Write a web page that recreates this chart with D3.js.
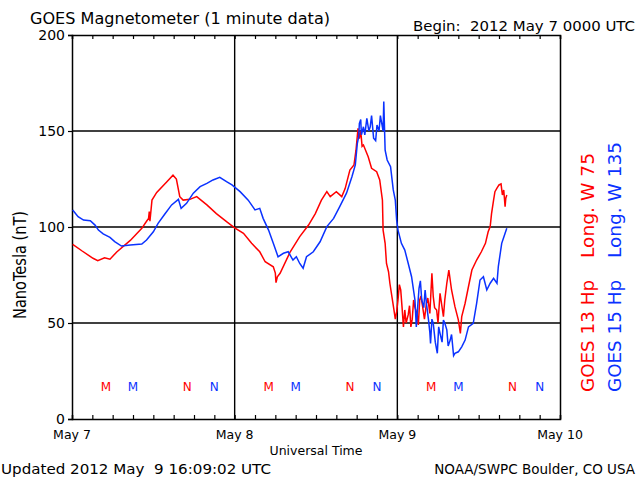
<!DOCTYPE html>
<html><head><meta charset="utf-8">
<script src="https://cdn.jsdelivr.net/npm/d3@7"></script>
<style>body{margin:0;background:#fff}svg{display:block}text{font-family:"DejaVu Sans",sans-serif}</style>
</head><body>
<script>
// Hours since 2012-05-07 00:00 UTC
const g13Hours = [0.1,1.5,3.1,3.8,4.8,5.6,6.6,8.6,10.3,11.0,11.3,11.4,11.5,11.8,12.5,14,14.9,15.4,15.9,16.4,17.4,18.4,19.9,21.3,22.8,24.0,25.3,26.5,27.7,28.5,29.7,30.0,30.1,30.3,30.7,32.2,33.6,34.9,35.9,36.8,37.6,38.1,39,39.8,40.3,41,41.6,41.9,42.2,42.4,42.6,42.8,43,43.7,44.2,44.95,45.4,45.8,45.9,46.2,46.4,46.7,46.9,47.2,47.5,47.7,47.9,48.1,48.3,48.5,48.7,48.9,49.1,49.3,49.6,49.8,50,50.2,50.4,50.6,50.9,51.1,51.3,51.5,51.8,52.0,52.3,52.5,52.8,53.1,53.3,53.5,53.8,54.0,54.3,54.8,55.0,55.3,55.6,56,56.5,57,57.3,57.5,58,58.5,59,59.7,60.4,61,61.4,61.7,61.9,62.2,62.4,62.7,63,63.3,63.5,63.7,63.9,64.0,64.15];
const g13Values = [91,87.5,83.7,82.5,84,83.2,87,93,99.3,103,104.5,108,103,114,118,123.6,127,125,115.8,114,114.4,115.8,111.5,107,102.8,99.6,96.7,91.5,87.1,81.9,79.3,76,71,74,75.9,87.1,95,101,107,114,118.4,115.8,118.4,115.8,120,129.7,132.3,140,151.4,146,150,142,142.7,136.6,130.6,128.8,124.5,114,98.4,91.5,81,76.7,70.7,63.7,56.8,52,55.9,62,70,67.2,58,48,56.8,50,54.2,59,48,52,62,58,55,49,62,64,56.8,52,60.3,63,55,75.9,63.7,58,56.8,50,65.5,53.3,62,70.7,77.6,67.2,58.5,51.6,44.6,53.3,60.3,69,77.6,82.8,87.1,91.5,97.5,100.2,107,114,118.4,120.2,121.9,122.4,116.7,119.3,110.6,114.9,116.7];
const g15Hours = [0.1,0.9,1.7,2.7,3.4,3.9,4.6,5.6,6.3,7.3,8.6,10.3,11,12,12.7,13.7,14.7,15.7,16.1,16.9,17.9,18.9,19.9,20.8,21.8,22.8,23.6,24.8,26,27,27.7,28.2,29,29.7,30.4,31.2,31.9,32.6,33.1,33.6,34.1,34.6,35.6,36.6,37.6,38.6,39.5,40.5,41.3,41.8,42.1,42.3,42.4,42.6,42.7,43,43.2,43.5,43.8,44,44.2,44.5,44.8,45,45.3,45.5,45.7,45.9,46.0,46.2,46.5,47,47.4,47.7,47.9,48.1,48.6,49.1,49.6,50.1,50.6,50.8,50.9,51.2,51.4,51.6,51.9,52.1,52.3,52.6,52.8,52.9,53.1,53.3,53.6,53.9,54.1,54.3,54.6,54.8,55.0,55.3,55.5,55.8,56.0,56.3,56.5,57,57.5,58,58.5,59.2,59.7,60.2,60.7,61.2,61.7,62.2,62.7,62.9,63.4,63.9,64.15];
const g15Values = [108.9,105.4,103.6,103.3,101,98.4,96.4,94.6,92.4,90.1,90.6,91.1,93.2,97.5,101.9,106.8,111.5,114.4,109.7,112.3,117.6,121,122.7,124.5,125.9,123.6,121.9,118.4,114,108.9,109.7,104.5,98.4,91.5,84.5,86.3,87.1,82.8,84.5,81,78.5,84.5,87.1,92.3,100.2,104.5,110.6,117.6,126.2,132.3,143.6,147,154,156,148,152.2,148,156.6,150,152.2,158,146.2,145,153.1,150,158,154,150,165.3,140,134.9,131.4,119.3,114,103.6,98.4,91.5,88,81.1,74.1,62,48,53.3,68.1,72,62,58,67.2,60,51.6,45,39.4,52,49.8,40,34.2,48,44.6,40,51.6,50,46.4,38,41.1,44,33,34.2,35,37.6,41.1,48,49.8,60.2,72.4,74.1,67.2,70.7,73.3,70.7,79.4,91.5,96.7,99.3];
const g13MidnightHours = [5,29,53];
const g13NoonHours = [17,41,65];
const g15MidnightHours = [9,33,57];
const g15NoonHours = [21,45,69];
const yTicks = [0,50,100,150,200];
const dayLabels = ["May 7","May 8","May 9","May 10"];

const W=640,H=480, L=72, R=560, T=35, B=419;
const red="#ff0000", blue="#0a32ff";
const svg=d3.select("body").append("svg").attr("width",W).attr("height",H);
const x=d3.scaleLinear().domain([0,72]).range([L,R]);
const y=d3.scaleLinear().domain([0,200]).range([B,T]);

// gridlines
svg.append("g").selectAll("line").data([50,100,150]).join("line")
  .attr("x1",L).attr("x2",R).attr("y1",d=>y(d)).attr("y2",d=>y(d))
  .attr("stroke","#000").attr("stroke-width",1.4);
svg.append("g").selectAll("line").data([24,48]).join("line")
  .attr("x1",d=>x(d)).attr("x2",d=>x(d)).attr("y1",T).attr("y2",B)
  .attr("stroke","#000").attr("stroke-width",1.4);

// axes
const hrs=d3.range(0,73,3);
const xb=svg.append("g").attr("transform",`translate(0,${B})`)
  .call(d3.axisBottom(x).tickValues(hrs).tickSize(-4).tickFormat(""));
const xt=svg.append("g").attr("transform",`translate(0,${T})`)
  .call(d3.axisTop(x).tickValues(hrs).tickSize(-4).tickFormat(""));
const yl=svg.append("g").attr("transform",`translate(${L},0)`)
  .call(d3.axisLeft(y).tickValues(yTicks).tickSize(4).tickPadding(3).tickFormat(d3.format("d")));
const yr=svg.append("g").attr("transform",`translate(${R},0)`)
  .call(d3.axisRight(y).tickValues(yTicks).tickSize(0).tickFormat(""));
[xb,xt,yl,yr].forEach(g=>{
  g.select(".domain").attr("stroke","#000").attr("stroke-width",1.5);
  g.selectAll(".tick line").attr("stroke","#000").attr("stroke-width",1.2);
});
yl.selectAll(".tick text").attr("font-size",14).attr("fill","#000").attr("dy","0.35em");

// x day labels
svg.append("g").selectAll("text").data(dayLabels).join("text")
  .attr("x",(d,i)=>x(i*24)).attr("y",439).attr("text-anchor","middle")
  .attr("font-size",12.5).text(d=>d);

// lines
const line=d3.line().x(d=>x(d[0])).y(d=>y(d[1]));
svg.append("path").datum(g13Hours.map((h,i)=>[h,g13Values[i]]))
  .attr("d",line).attr("fill","none").attr("stroke",red).attr("stroke-width",1.5);
svg.append("path").datum(g15Hours.map((h,i)=>[h,g15Values[i]]))
  .attr("d",line).attr("fill","none").attr("stroke",blue).attr("stroke-width",1.5);

// M / N markers
function marks(arr,lab,col){
  svg.append("g").selectAll("text").data(arr.filter(h=>h<=72)).join("text")
    .attr("x",d=>x(d)).attr("y",391).attr("text-anchor","middle")
    .attr("font-size",12).attr("fill",col).text(lab);
}
marks(g13MidnightHours,"M",red); marks(g13NoonHours,"N",red);
marks(g15MidnightHours,"M",blue); marks(g15NoonHours,"N",blue);

// titles
svg.append("text").attr("x",30).attr("y",24).attr("font-size",15.5)
  .attr("textLength",300).attr("lengthAdjust","spacingAndGlyphs")
  .text("GOES Magnetometer (1 minute data)");
svg.append("text").attr("x",413).attr("y",31).attr("font-size",14)
  .attr("textLength",222).attr("lengthAdjust","spacingAndGlyphs")
  .attr("xml:space","preserve").text("Begin:  2012 May 7 0000 UTC");
svg.append("text").attr("x",316).attr("y",455).attr("text-anchor","middle")
  .attr("font-size",12.5).text("Universal Time");
svg.append("text").attr("x",1).attr("y",474).attr("font-size",14.5)
  .attr("textLength",270).attr("lengthAdjust","spacingAndGlyphs")
  .attr("xml:space","preserve").text("Updated 2012 May  9 16:09:02 UTC");
svg.append("text").attr("x",635).attr("y",474).attr("font-size",13.5)
  .attr("text-anchor","end")
  .text("NOAA/SWPC Boulder, CO USA");
svg.append("text").attr("transform","translate(26,265) rotate(-90)")
  .attr("text-anchor","middle").attr("font-size",17)
  .attr("textLength",108).attr("lengthAdjust","spacingAndGlyphs")
  .text("NanoTesla (nT)");

// right side rotated labels
function rlab(xp,y0,txt,len,col){
  svg.append("text").attr("transform",`translate(${xp},${y0}) rotate(-90)`)
    .attr("font-size",17).attr("fill",col)
    .attr("textLength",len).attr("lengthAdjust","spacingAndGlyphs").text(txt);
}
rlab(594,392,"GOES 13 Hp",112,red); rlab(594,258,"Long. W 75",105,red);
rlab(621,392,"GOES 15 Hp",112,blue); rlab(621,258,"Long. W 135",116,blue);
</script>
</body></html>
